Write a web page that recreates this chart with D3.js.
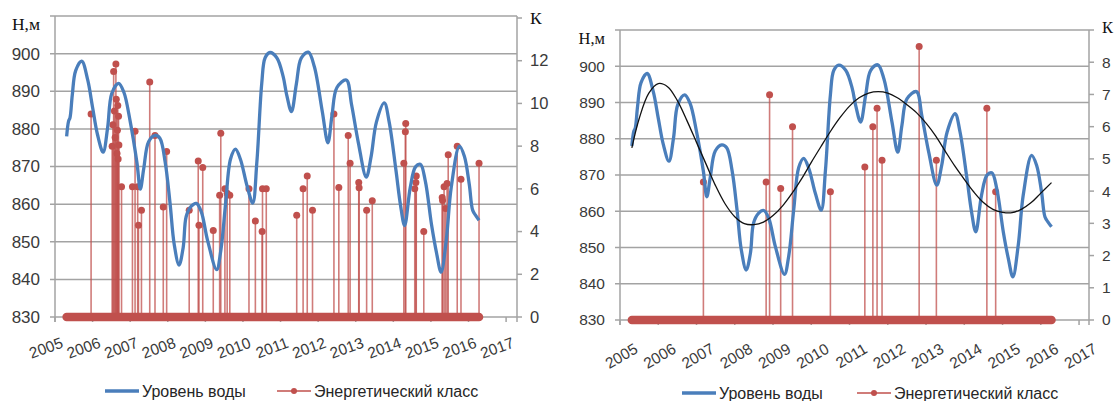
<!DOCTYPE html>
<html>
<head>
<meta charset="utf-8">
<script src="https://cdn.jsdelivr.net/npm/d3@7"></script>
<style>
  body { margin: 0; background: #fff; }
  svg { display: block; }
</style>
</head>
<body>
<div id="chart"></div>
<script>
// --- data ---
const yearTicks = [2005, 2006, 2007, 2008, 2009, 2010, 2011, 2012, 2013, 2014, 2015, 2016, 2017];
const levelTicks = [830, 840, 850, 860, 870, 880, 890, 900];
const classTicksLeft = [0, 2, 4, 6, 8, 10, 12];
const classTicksRight = [0, 1, 2, 3, 4, 5, 6, 7, 8];

// water level, m  [year, H]
const waterLevel = [
  [2005.31, 878], [2005.36, 882], [2005.40, 883], [2005.46, 889], [2005.55, 895.5],
  [2005.71, 898], [2005.87, 893], [2006.0, 885.7], [2006.13, 878.5], [2006.28, 873.8],
  [2006.40, 880.3], [2006.51, 889.4], [2006.69, 892.1], [2006.83, 889.8], [2007.0, 882],
  [2007.18, 871], [2007.27, 864], [2007.36, 869.4], [2007.49, 876.6], [2007.66, 878.3],
  [2007.79, 877.5], [2007.93, 871.2], [2008.06, 860.3], [2008.17, 849.4], [2008.30, 843.8],
  [2008.41, 848.5], [2008.49, 856.7], [2008.62, 859.4], [2008.76, 860.2], [2008.89, 858],
  [2009.06, 850.3], [2009.30, 842.6], [2009.41, 847.6], [2009.54, 860.3], [2009.67, 872],
  [2009.80, 874.6], [2009.93, 872], [2010.11, 864.8], [2010.26, 860.3], [2010.37, 871.2],
  [2010.50, 892.1], [2010.59, 898.9], [2010.72, 900.3], [2010.90, 898.9], [2011.07, 893.9],
  [2011.16, 889.2], [2011.29, 884.6], [2011.42, 891.9], [2011.55, 898.8], [2011.74, 900.4],
  [2011.90, 896.5], [2012.11, 884.6], [2012.26, 876.3], [2012.37, 883.7], [2012.50, 891],
  [2012.75, 893], [2012.89, 886.4], [2013.07, 876.3], [2013.28, 867.2], [2013.41, 872.7],
  [2013.55, 881.8], [2013.76, 886.9], [2013.89, 881.8], [2014.07, 869], [2014.19, 859.8],
  [2014.30, 854.3], [2014.45, 864.4], [2014.59, 869.9], [2014.72, 870.6], [2014.85, 866.2],
  [2015.02, 854.3], [2015.15, 847], [2015.27, 841.9], [2015.41, 850.6], [2015.54, 864.4],
  [2015.76, 875.4], [2015.89, 872.7], [2016.02, 865.3], [2016.11, 858.4], [2016.19, 857],
  [2016.28, 855.7]
];

// trend line of the right chart  [year, H]
const trendLine = [
  [2005.31, 877.5], [2005.5, 885.5], [2005.75, 892.5], [2006.0, 895.2], [2006.25, 894.3],
  [2006.5, 890.5], [2006.75, 885], [2007.0, 879], [2007.25, 873], [2007.5, 867],
  [2007.75, 862], [2008.0, 858.5], [2008.25, 856.6], [2008.5, 856.3], [2008.75, 857],
  [2009.0, 858.8], [2009.25, 861.5], [2009.5, 865], [2009.75, 869], [2010.0, 873.5],
  [2010.25, 877.8], [2010.5, 882], [2010.75, 885.8], [2011.0, 889], [2011.25, 891.3],
  [2011.5, 892.6], [2011.75, 893], [2012.0, 892.6], [2012.25, 891.3], [2012.5, 889.4],
  [2012.75, 887.2], [2013.0, 884.3], [2013.25, 880.8], [2013.5, 876.6], [2013.75, 872.5],
  [2014.0, 868.8], [2014.25, 865.3], [2014.5, 862.4], [2014.75, 860.5], [2015.0, 859.7],
  [2015.25, 859.6], [2015.5, 860.6], [2015.75, 862.4], [2016.0, 865], [2016.28, 867.9]
];

// energy class of events, left chart  [year, K]
const eventsAll = [
  [2005.96, 9.5],
  [2006.52, 8.0], [2006.54, 9.0], [2006.56, 11.5], [2006.58, 9.65], [2006.60, 8.4],
  [2006.62, 11.85], [2006.63, 10.2], [2006.65, 7.65], [2006.66, 8.75], [2006.67, 9.9],
  [2006.68, 7.4], [2006.69, 9.4], [2006.70, 8.05],
  [2006.77, 6.1], [2007.06, 6.1], [2007.13, 8.7], [2007.20, 6.1], [2007.22, 4.3], [2007.30, 5.0],
  [2007.52, 11.0], [2007.66, 8.5], [2007.88, 5.15], [2007.97, 7.75],
  [2008.57, 5.0], [2008.81, 7.3], [2008.83, 4.3], [2008.93, 7.0],
  [2009.21, 4.05], [2009.38, 5.7], [2009.41, 8.6], [2009.52, 6.0], [2009.58, 5.8], [2009.65, 5.7],
  [2010.16, 6.0], [2010.33, 4.5], [2010.51, 4.0], [2010.52, 6.0], [2010.62, 6.0],
  [2011.43, 4.77], [2011.60, 6.0], [2011.71, 6.6], [2011.85, 5.0],
  [2012.42, 9.5], [2012.55, 6.06], [2012.80, 8.5], [2012.85, 7.2],
  [2013.08, 6.3], [2013.09, 6.05], [2013.29, 5.0], [2013.44, 5.44],
  [2014.28, 7.2], [2014.32, 8.67], [2014.33, 9.06],
  [2014.57, 6.0], [2014.60, 6.3], [2014.61, 6.6], [2014.81, 4.0],
  [2015.30, 5.6], [2015.31, 5.45], [2015.35, 6.1], [2015.39, 5.08], [2015.43, 6.25], [2015.46, 7.6],
  [2015.70, 8.0], [2015.80, 6.45], [2016.28, 7.2]
];

// energy class of events, right chart  [year, K]
const eventsStrong = [
  [2007.18, 4.28], [2008.82, 4.28], [2008.91, 6.99], [2009.20, 4.08], [2009.51, 6.0],
  [2010.50, 3.98], [2011.40, 4.75], [2011.61, 6.0], [2011.72, 6.57], [2011.85, 4.96],
  [2012.82, 8.49], [2013.27, 4.96], [2014.59, 6.57], [2014.82, 3.98]
];

const seriesStart = 2005.31;
const seriesEnd = 2016.28;

const blue = '#4a7ebb';
const red = '#c0504d';
const grid = '#a3a3a3';
const textColor = '#3a3a3a';

const svg = d3.select('#chart').append('svg')
  .attr('width', 1116)
  .attr('height', 401)
  .attr('font-family', 'Liberation Sans, Arial, sans-serif');

drawPanel({
  left: 55, right: 517, top: 16, bottom: 317,
  xMax: 2017.29, kMax: 14, kTop: 18,
  classTicks: classTicksLeft, events: eventsAll, trend: null,
  tickFont: 17, rightFont: 16.5, rightLabelX: 530, unitFont: 17.5,
  levelLabelX: 40, unitY: 24, kY: 18,
  yearDx: 9, yearY: 347, yearRot: -20, yearFont: 15.5,
  legendY: 391, legendBlueX: 105, legendRedX: 277
});

drawPanel({
  left: 620, right: 1089, top: 30, bottom: 320,
  xMax: 2017.26, kMax: 9, kTop: 30,
  classTicks: classTicksRight, events: eventsStrong, trend: trendLine,
  tickFont: 15.5, rightFont: 15.5, rightLabelX: 1102, unitFont: 16.5,
  levelLabelX: 605, unitY: 38, kY: 27,
  yearDx: 19, yearY: 352, yearRot: -30, yearFont: 15.5,
  legendY: 393, legendBlueX: 682, legendRedX: 857
});

function drawPanel(c) {
  const g = svg.append('g');

  const x = d3.scaleLinear().domain([2005, c.xMax]).range([c.left, c.right]);
  const y = d3.scaleLinear().domain([830, 910]).range([c.bottom, c.top]);
  const k = d3.scaleLinear().domain([0, c.kMax]).range([c.bottom, c.kTop]);

  // horizontal gridlines (primary axis) incl. the top one
  const gridVals = levelTicks.concat([910]);
  g.selectAll('.grid')
    .data(gridVals)
    .enter().append('line')
    .attr('x1', c.left - 5)
    .attr('x2', c.right)
    .attr('y1', d => y(d))
    .attr('y2', d => y(d))
    .attr('stroke', grid)
    .attr('stroke-width', 1.5);

  // left and right axis lines
  g.append('line')
    .attr('x1', c.left).attr('x2', c.left)
    .attr('y1', c.top).attr('y2', c.bottom + 5)
    .attr('stroke', grid).attr('stroke-width', 1.5);
  g.append('line')
    .attr('x1', c.right).attr('x2', c.right)
    .attr('y1', c.top).attr('y2', c.bottom + 5)
    .attr('stroke', grid).attr('stroke-width', 1.5);

  // right axis ticks
  g.selectAll('.rtick')
    .data(c.classTicks.concat([c.kMax]))
    .enter().append('line')
    .attr('x1', c.right).attr('x2', c.right + 5)
    .attr('y1', d => k(d)).attr('y2', d => k(d))
    .attr('stroke', grid).attr('stroke-width', 1.5);

  // bottom year ticks
  g.selectAll('.xtick')
    .data(yearTicks)
    .enter().append('line')
    .attr('x1', d => x(d)).attr('x2', d => x(d))
    .attr('y1', c.bottom).attr('y2', c.bottom + 5)
    .attr('stroke', grid).attr('stroke-width', 1.5);

  // left labels
  g.selectAll('.ylab')
    .data(levelTicks)
    .enter().append('text')
    .attr('x', c.levelLabelX)
    .attr('y', d => y(d))
    .attr('dy', '0.35em')
    .attr('text-anchor', 'end')
    .attr('font-size', c.tickFont)
    .attr('fill', textColor)
    .text(d => d);

  g.append('text')
    .attr('x', c.levelLabelX)
    .attr('y', c.unitY)
    .attr('dy', '0.35em')
    .attr('text-anchor', 'end')
    .attr('font-family', 'Liberation Serif, Times New Roman, serif')
    .attr('font-size', c.unitFont)
    .attr('fill', '#111')
    .text('Н,м');

  // right labels
  g.selectAll('.klab')
    .data(c.classTicks)
    .enter().append('text')
    .attr('x', c.rightLabelX)
    .attr('y', d => k(d))
    .attr('dy', '0.35em')
    .attr('font-size', c.rightFont)
    .attr('fill', textColor)
    .text(d => d);

  g.append('text')
    .attr('x', c.rightLabelX)
    .attr('y', c.kY)
    .attr('dy', '0.35em')
    .attr('font-family', 'Liberation Serif, Times New Roman, serif')
    .attr('font-size', c.unitFont)
    .attr('fill', '#111')
    .text('К');

  // year labels, rotated
  g.selectAll('.xlab')
    .data(yearTicks)
    .enter().append('text')
    .attr('transform', d => `translate(${x(d) + c.yearDx},${c.yearY}) rotate(${c.yearRot})`)
    .attr('text-anchor', 'end')
    .attr('font-size', c.yearFont)
    .attr('fill', textColor)
    .text(d => d);

  // energy class: spikes
  const kLine = d3.line().x(d => x(d[0])).y(d => k(d[1]));
  g.selectAll('.spike')
    .data(c.events)
    .enter().append('path')
    .attr('d', d => kLine([[d[0], 0], [d[0], d[1]]]))
    .attr('stroke', red)
    .attr('stroke-opacity', 0.75)
    .attr('stroke-width', 1.6)
    .attr('fill', 'none');

  // zero band (daily zero values with markers)
  g.append('path')
    .attr('d', kLine([[seriesStart, 0], [seriesEnd, 0]]))
    .attr('stroke', red)
    .attr('stroke-width', 8.5)
    .attr('stroke-linecap', 'round');

  g.selectAll('.marker')
    .data(c.events)
    .enter().append('circle')
    .attr('cx', d => x(d[0]))
    .attr('cy', d => k(d[1]))
    .attr('r', 3.5)
    .attr('fill', red);

  // water level
  const hLine = d3.line()
    .x(d => x(d[0]))
    .y(d => y(d[1]))
    .curve(d3.curveCatmullRom.alpha(0.5));

  g.append('path')
    .attr('d', hLine(waterLevel))
    .attr('fill', 'none')
    .attr('stroke', blue)
    .attr('stroke-width', 3.3)
    .attr('stroke-linejoin', 'round');

  if (c.trend) {
    g.append('path')
      .attr('d', hLine(c.trend))
      .attr('fill', 'none')
      .attr('stroke', '#111')
      .attr('stroke-width', 1.3);
  }

  // legend
  const lg = g.append('g').attr('font-size', 16).attr('fill', '#262626');
  lg.append('line')
    .attr('x1', c.legendBlueX).attr('x2', c.legendBlueX + 34)
    .attr('y1', c.legendY).attr('y2', c.legendY)
    .attr('stroke', blue).attr('stroke-width', 3.5);
  lg.append('text')
    .attr('x', c.legendBlueX + 37)
    .attr('y', c.legendY)
    .attr('dy', '0.35em')
    .text('Уровень воды');

  lg.append('line')
    .attr('x1', c.legendRedX).attr('x2', c.legendRedX + 34)
    .attr('y1', c.legendY).attr('y2', c.legendY)
    .attr('stroke', red).attr('stroke-width', 1.5);
  lg.append('circle')
    .attr('cx', c.legendRedX + 17)
    .attr('cy', c.legendY)
    .attr('r', 3)
    .attr('fill', red);
  lg.append('text')
    .attr('x', c.legendRedX + 37)
    .attr('y', c.legendY)
    .attr('dy', '0.35em')
    .text('Энергетический класс');
}
</script>
</body>
</html>
